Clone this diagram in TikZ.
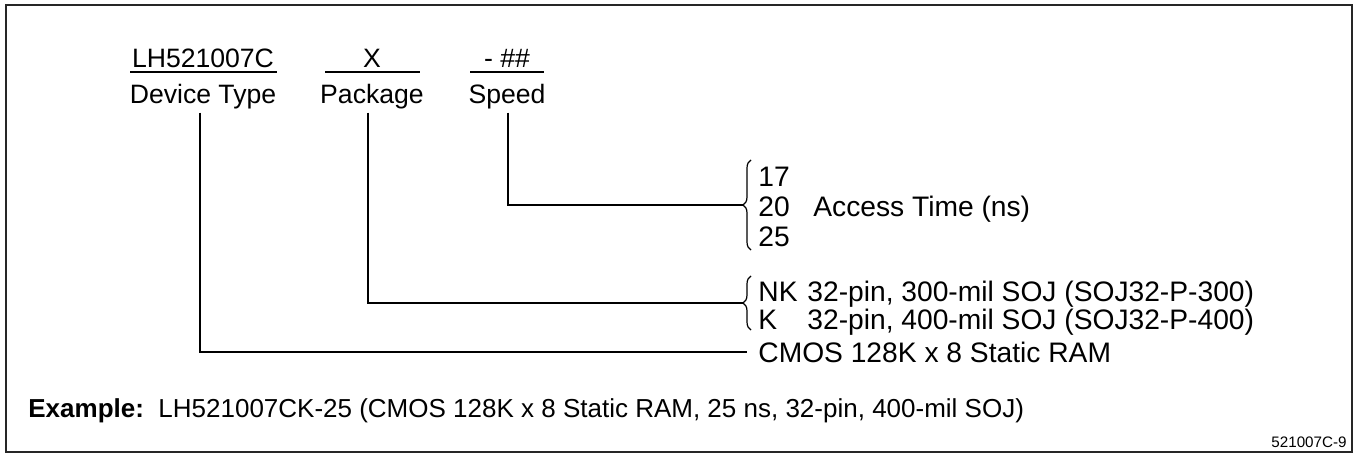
\documentclass[tikz,border=0pt]{standalone}
\usepackage{fontspec}
\setmainfont{Liberation Sans}
\usetikzlibrary{decorations.pathreplacing}

\tikzset{
  wire/.style={line width=0.6pt},
  curly/.style={line width=0.6pt, decorate, decoration={brace, amplitude=4pt}},
  codetext/.style={anchor=base},
  desctext/.style={anchor=base, outer sep=2pt},
  itemtext/.style={anchor=base west, font=\fontsize{14.1}{17}\selectfont}
}

\begin{document}
\begin{tikzpicture}[x=0.5pt, y=-0.5pt, every node/.style={font=\fontsize{13.3}{16}\selectfont, inner sep=0pt}]
\useasboundingbox (0,0) rectangle (1355,455);
% Frame
\draw [line width=0.9pt, black!85] (6,5) rectangle (1352,452);

% Part number fields
\node [codetext] (devcode) at (203,67) {LH521007C};
\node [codetext] (pkgcode) at (372,67) {X};
\node [codetext] (spdcode) at (507,67) {- \#\#};
\draw [wire] (130,72) -- (277,72);
\draw [wire] (325,72) -- (420,72);
\draw [wire] (470,72) -- (544,72);
\node [desctext] (devtype) at (203,103) {Device Type};
\node [desctext] (pkgtype) at (372,103) {Package};
\node [desctext] (spdtype) at (507,103) {Speed};

% Speed options
\draw [curly] (751,250) -- (751,160);
\coordinate (spdtip) at (743,205);
\node [itemtext] (s17) at (758,186) {17};
\node [itemtext] (s20) at (758,216) {20};
\node [itemtext] (s25) at (758,246) {25};
\node [itemtext] (access) at (813,216) {Access Time (ns)};

% Package options
\draw [curly] (751,330) -- (751,276);
\coordinate (pkgtip) at (743,303);
\node [itemtext] (nk) at (758,301) {NK};
\node [itemtext] (nkdesc) at (807,301) {32-pin, 300-mil SOJ (SOJ32-P-300)};
\node [itemtext] (k) at (758,329) {K};
\node [itemtext] (kdesc) at (807,329) {32-pin, 400-mil SOJ (SOJ32-P-400)};

% Device type
\node [itemtext] (ram) at (758,362) {CMOS 128K x 8 Static RAM};

% Leader lines
\draw [wire] ([xshift=0.5pt]spdtype.south) |- (spdtip);
\draw [wire] ([xshift=-2pt]pkgtype.south) |- (pkgtip);
\draw [wire] ([xshift=-1.5pt]devtype.south) |- ([xshift=-5.5pt]ram.west);

% Example line
\node [anchor=base west, font=\fontsize{13}{16}\selectfont] (example) at (28,417.5) {\textbf{Example:}\ \ LH521007CK-25 (CMOS 128K x 8 Static RAM, 25 ns, 32-pin, 400-mil SOJ)};
\node [anchor=base east, font=\fontsize{7.6}{9}\selectfont] (figno) at (1347,447) {521007C-9};
\end{tikzpicture}
\end{document}
